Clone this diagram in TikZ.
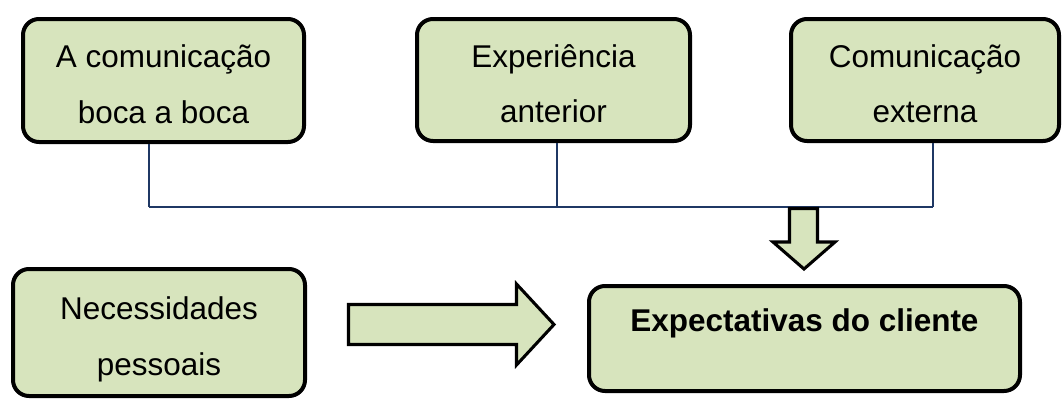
\documentclass[tikz,border=0pt]{standalone}
\usepackage{fontspec}
\setmainfont{Liberation Sans}
\usetikzlibrary{calc}

\definecolor{boxgreen}{RGB}{215,228,189}
\definecolor{linknavy}{RGB}{31,56,100}
% two lines of card text, with struts so every card sits alike
\newcommand{\cardlines}[2]{\rule{0pt}{28.3pt}#1\\#2\rule[-6pt]{0pt}{6pt}}

\tikzset{
  card/.style={draw=black,line width=3pt,fill=boxgreen,rounded corners=12pt,
    align=center,inner sep=0pt,font=\fontsize{23.6}{41.5}\selectfont},
  link/.style={draw=linknavy,line width=0.9pt},
  fatarrow/.style={draw=black,line width=2.3pt,fill=boxgreen,line join=miter}
}

\begin{document}
\begin{tikzpicture}[x=0.75pt,y=-0.75pt]
  \useasboundingbox (0,0) rectangle (1064,400);
  % top row
  \node[card,minimum width=210.75pt,minimum height=92.25pt] (boca) at (163.5,80.5) {\cardlines{A comunicação}{boca a boca}};
  \node[card,minimum width=204.75pt,minimum height=91.5pt] (exper) at (553.5,80) {\cardlines{Experiência}{anterior}};
  \node[card,minimum width=201pt,minimum height=91.5pt] (extern) at (925,80) {\cardlines{Comunicação}{externa}};
  % bottom row
  \node[card,minimum width=219pt,minimum height=95.25pt] (necess) at (159,332.5) {\cardlines{Necessidades}{pessoais}};
  \node[card,minimum width=323.25pt,minimum height=78.75pt,
    label={[font=\fontsize{23.6}{41.5}\selectfont\bfseries,yshift=11pt]center:Expectativas do cliente}] (expect) at (804.5,338.5) {};
  % joining lines
  \coordinate (j1) at (149,207);
  \coordinate (j2) at (557,207);
  \coordinate (j3) at (933,207);
  \draw[link] (boca.south -| j1)--(j1);
  \draw[link] (exper.south -| j2)--(j2);
  \draw[link] (extern.south -| j3)--(j3);
  \draw[link] (j1)--(j3);
  % block arrows
  \draw[fatarrow] (789.5,208.5)--(817.5,208.5)--(817.5,242)--(835,242)--(804,269)
    --(773,242)--(789.5,242)--cycle;
  \draw[fatarrow] (348.5,304.5)--(516.5,304.5)--(516.5,284)--(554,324.5)--(516.5,365)
    --(516.5,344.5)--(348.5,344.5)--cycle;
\end{tikzpicture}
\end{document}
